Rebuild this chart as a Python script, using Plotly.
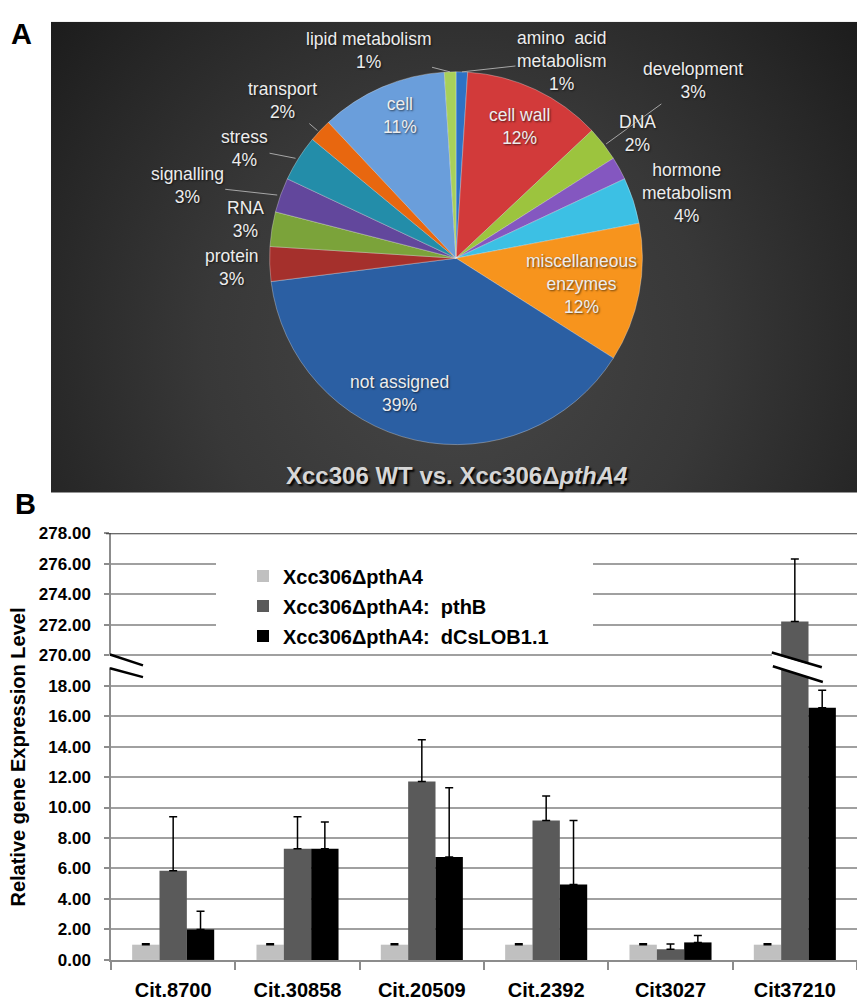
import math
import base64
import plotly.graph_objects as go

W, H = 857, 1003
FONT = "Liberation Sans, Arial, Helvetica, sans-serif"

# ---------------- Panel A: functional categories ----------------
pie_labels = ["amino acid metabolism", "cell wall", "development", "DNA",
              "hormone metabolism", "miscellaneous enzymes", "not assigned",
              "protein", "RNA", "signalling", "stress", "transport", "cell",
              "lipid metabolism"]
pie_values = [1, 12, 3, 2, 4, 12, 39, 3, 3, 3, 4, 2, 11, 1]
pie_colors = ["#2E72C4", "#D23A3A", "#9CC43E", "#8457C0", "#3CC0E4", "#F7941D",
              "#2B5FA3", "#A5302C", "#7BA33A", "#62479C", "#238DA9", "#E8670F",
              "#6A9EDB", "#A8D05A"]

# ---------------- Panel B: qRT-PCR ----------------
genes = ["Cit.8700", "Cit.30858", "Cit.20509", "Cit.2392", "Cit3027", "Cit37210"]
series_names = ["Xcc306\u0394pthA4", "Xcc306\u0394pthA4:\u00a0 pthB",
                "Xcc306\u0394pthA4:\u00a0 dCsLOB1.1"]
expr_mutant = [1.0, 1.0, 1.0, 1.0, 1.0, 1.0]
expr_pthB = [5.85, 7.3, 11.7, 9.15, 0.7, 272.2]
expr_lob = [2.0, 7.3, 6.75, 4.95, 1.15, 16.55]
err_mutant = [0.06, 0.06, 0.06, 0.06, 0.06, 0.06]
err_pthB = [3.55, 2.1, 2.75, 1.6, 0.35, 4.1]
err_lob = [1.2, 1.75, 4.55, 4.2, 0.45, 1.15]
bar_colors = ["#C0C0C0", "#5A5A5A", "#000000"]
y_tick_values = [0, 2, 4, 6, 8, 10, 12, 14, 16, 18, 270, 272, 274, 276, 278]

# broken y axis: values above the break are shifted down so 270 sits where 20 would
BREAK_FROM, BREAK_TO = 270.0, 20.0


def to_axis(v):
    return v - (BREAK_FROM - BREAK_TO) if v >= 100 else v


def px(x):
    return x / W


def py(y):
    return 1 - y / H


fig = go.Figure()

# ---- pie ----
PCX, PCY, PR = 456, 254, 190
fig.add_trace(go.Pie(
    labels=pie_labels, values=pie_values, sort=False, direction="clockwise",
    rotation=0, textinfo="none", hoverinfo="label+percent", showlegend=False,
    marker=dict(colors=pie_colors, line=dict(color="rgba(255,255,255,0.3)", width=1)),
    domain=dict(x=[px(PCX - PR), px(PCX + PR)], y=[py(PCY + PR), py(PCY - PR)]),
))

# label layout: display text, radial factor, text offset (px), leader line
label_style = {
    "amino acid metabolism": ("amino\u00a0 acid<br>metabolism", 1.0, 100, -11, True),
    "cell wall": ("cell wall", 0.78, 0, 0, False),
    "development": ("development", 1.0, 87, -63, True),
    "DNA": ("DNA", 1.0, 15, -35, False),
    "hormone metabolism": ("hormone<br>metabolism", 1.0, 50, -8, False),
    "miscellaneous enzymes": ("miscellaneous<br>enzymes", 0.67, 0, 2, False),
    "not assigned": ("not assigned", 0.78, -24, -7, False),
    "protein": ("protein", 1.0, -34, 3, False),
    "RNA": ("RNA", 1.0, -23, -10, False),
    "signalling": ("signalling", 1.0, -90, -10, True),
    "stress": ("stress", 1.0, -51, -10, True),
    "transport": ("transport", 1.0, -35, -30, True),
    "cell": ("cell", 0.8, 4, -6, False),
    "lipid metabolism": ("lipid metabolism", 1.0, -82, -21, True),
}

total = sum(pie_values)
cum = 0.0
for lab, val in zip(pie_labels, pie_values):
    mid = 2 * math.pi * (cum + val / 2) / total
    cum += val
    text, rf, dx, dy, leader = label_style[lab]
    ax_ = PCX + rf * PR * math.sin(mid)
    ay_ = PCY - rf * PR * math.cos(mid)
    pct = f"{round(100 * val / total)}%"
    fig.add_annotation(
        x=px(ax_), y=py(ay_), xref="paper", yref="paper",
        text=f"{text}<br>{pct}", showarrow=True, ax=dx, ay=dy,
        arrowhead=0, arrowwidth=1, standoff=0, startstandoff=0,
        arrowcolor="#A6A6A6" if leader else "rgba(0,0,0,0)",
        font=dict(family=FONT, size=17.5, color="#EDEDED",
                  shadow="1px 1px 2px rgba(0,0,0,0.6)"),
        align="center",
    )

# panel A title
fig.add_annotation(
    x=px(456), y=py(475), xref="paper", yref="paper", showarrow=False,
    xanchor="center", yanchor="middle",
    text="Xcc306 WT vs. Xcc306\u0394<i>pthA4</i>",
    font=dict(family=FONT, size=24, color="#D6D6D6", weight="bold",
              shadow="2px 2px 2px #000"),
)

# dark radial backdrop for panel A
svg = (
    "<svg xmlns='http://www.w3.org/2000/svg' width='806' height='480'>"
    "<defs><radialGradient id='g' gradientUnits='userSpaceOnUse' cx='405' cy='330' r='560'>"
    "<stop offset='0' stop-color='#474747'/>"
    "<stop offset='0.45' stop-color='#383838'/>"
    "<stop offset='0.75' stop-color='#272727'/>"
    "<stop offset='1' stop-color='#181818'/>"
    "</radialGradient></defs>"
    "<rect width='806' height='480' fill='url(#g)'/></svg>"
)
src = "data:image/svg+xml;base64," + base64.b64encode(svg.encode()).decode()
fig.add_layout_image(
    source=src, xref="paper", yref="paper", x=px(51), y=py(13),
    sizex=px(857) - px(51), sizey=py(13) - py(493),
    xanchor="left", yanchor="top", sizing="stretch", layer="below",
)

# ---- bars ----
for name, vals, errs, col in zip(series_names, [expr_mutant, expr_pthB, expr_lob],
                                 [err_mutant, err_pthB, err_lob], bar_colors):
    fig.add_trace(go.Bar(
        x=genes, y=[to_axis(v) for v in vals], name=name, marker_color=col,
        marker_line_width=0, legendgroup=name,
        error_y=dict(type="data", array=errs, arrayminus=[0] * len(errs),
                     symmetric=False, color="#000000", thickness=1.5, width=4),
        customdata=vals, hovertemplate="%{x}: %{customdata}<extra></extra>",
    ))

X0 = 111
Y_BOT, Y_TOP = 969.3, 534.3
fig.update_layout(
    width=W, height=H, margin=dict(l=0, r=0, t=0, b=0), autosize=False,
    paper_bgcolor="white", plot_bgcolor="white",
    barmode="group", bargap=0.34, bargroupgap=0,
    font=dict(family=FONT, color="#000"),
    xaxis=dict(domain=[px(X0), 1], type="category", range=[-0.5, 5.5],
               tickson="boundaries", ticks="outside", ticklen=8, tickwidth=1.5,
               tickcolor="#8C8C8C", showline=True, linecolor="#8C8C8C", linewidth=1.5,
               showgrid=False, ticklabelstandoff=11,
               tickfont=dict(size=20, weight="bold", family=FONT)),
    yaxis=dict(domain=[py(Y_BOT), py(Y_TOP)], range=[0, 28],
               tickvals=[to_axis(v) for v in y_tick_values],
               ticktext=[f"{v:.2f}" for v in y_tick_values],
               ticks="outside", ticklen=5, tickwidth=1.5, tickcolor="#8C8C8C",
               showline=True, linecolor="#8C8C8C", linewidth=1.5,
               showgrid=True, gridcolor="#A0A0A0", gridwidth=1.5, zeroline=False,
               ticklabelstandoff=10,
               tickfont=dict(size=17, weight="bold", family=FONT)),
    legend=dict(x=px(243), y=py(558), xanchor="left", yanchor="top",
                bgcolor="rgba(0,0,0,0)", tracegroupgap=1, itemwidth=30,
                font=dict(size=20, weight="bold", family=FONT)),
    showlegend=True,
)

# white panel behind the legend (gridlines pass around it)
fig.add_shape(type="rect", xref="paper", yref="paper",
              x0=px(216), x1=px(593), y0=py(645), y1=py(552),
              fillcolor="white", line_width=0, layer="above")

# dark top border of the plot frame
fig.add_shape(type="line", xref="paper", yref="y", x0=px(106), x1=1,
              y0=28, y1=28, line=dict(color="#3A3A3A", width=2))

# break marks on the y axis
fig.add_shape(type="path", xref="paper", yref="paper",
              path=f"M{px(109)},{py(658)} L{px(143)},{py(669)} L{px(143)},{py(681)} "
                   f"L{px(109)},{py(671)} Z",
              fillcolor="white", line_width=0, layer="above")
for y0, y1 in [(658, 669), (672, 681)]:
    fig.add_shape(type="line", xref="paper", yref="paper",
                  x0=px(110), x1=px(143), y0=py(y0), y1=py(y1),
                  line=dict(color="#000", width=2.5), layer="above")

# break marks across the tall Cit37210 pthB bar
bar_cx = X0 + (W - X0) * (5.5 / 6)
fig.add_shape(type="path", xref="paper", yref="paper",
              path=f"M{px(bar_cx - 23)},{py(657)} L{px(bar_cx + 27)},{py(672)} "
                   f"L{px(bar_cx + 28)},{py(685)} L{px(bar_cx - 22)},{py(670)} Z",
              fillcolor="white", line_width=0, layer="above")
for (xa, ya, xb, yb) in [(-23, 656, 27, 671), (-22, 670, 28, 686)]:
    fig.add_shape(type="line", xref="paper", yref="paper",
                  x0=px(bar_cx + xa), x1=px(bar_cx + xb), y0=py(ya), y1=py(yb),
                  line=dict(color="#000", width=2.5), layer="above")

# y axis title
fig.add_annotation(x=px(18), y=py(763), xref="paper", yref="paper", showarrow=False,
                   xanchor="center", yanchor="middle",
                   text="Relative gene Expression Level", textangle=-90,
                   font=dict(family=FONT, size=20, weight="bold", color="#000"))

# panel letters
for letter, lx, ly in [("A", 21, 25), ("B", 25, 505)]:
    fig.add_annotation(x=px(lx), y=py(ly), xref="paper", yref="paper", showarrow=False,
                       xanchor="center", yanchor="middle",
                       text=letter, font=dict(family=FONT, size=29, weight="bold", color="#000"))

fig.write_html("out.html")
